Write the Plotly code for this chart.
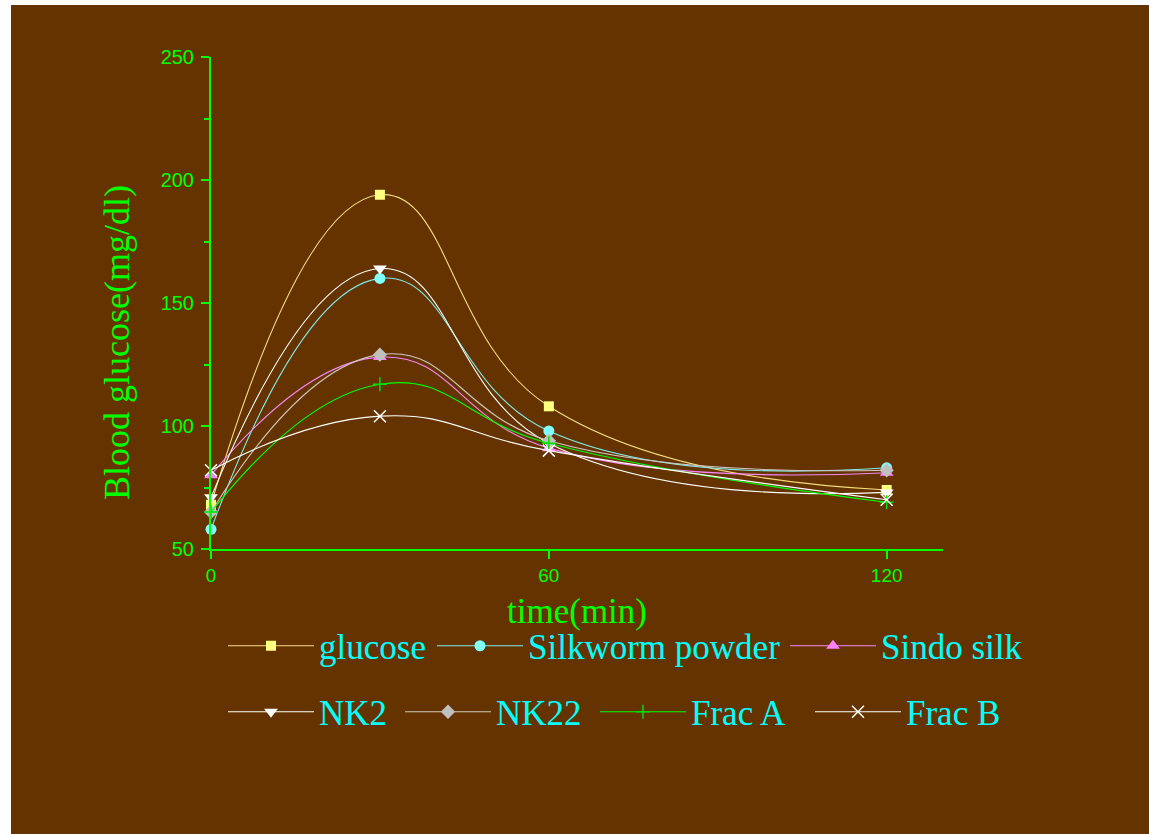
import plotly.graph_objects as go

# Sampling times (min)
time_min = [0, 30, 60, 120]

# Blood glucose (mg/dl) per treatment
glucose = [68, 194, 108, 74]
silkworm_powder = [58, 160, 98, 83]
sindo_silk = [80, 128, 91, 81]
nk2 = [71, 164, 93, 73]
nk22 = [65, 129, 94, 82]
frac_a = [65, 117, 93, 69]
frac_b = [82, 104, 90, 70]

x_ticks = [0, 60, 120]
y_ticks = [50, 100, 150, 200, 250]

BROWN = "#643300"
GREEN = "#00ff00"
CYAN = "#00ffff"

# plot area in pixels (used to place legends/titles in paper units)
L, R, T, B = 211, 943, 57, 549
PW, PH = R - L, B - T


def px_x(px):
    return (px - L) / PW


def px_y(py):
    return (B - py) / PH


series = [
    # name, values, line colour, symbol, marker colour, size, legend line start (px), row centre (px)
    ("glucose", glucose, "#f8dc80", "square", "#ffff80", 10, 228, 646),
    ("Silkworm powder", silkworm_powder, "#80ecec", "circle", "#80ffff", 11, 437, 646),
    ("Sindo silk", sindo_silk, "#f488f4", "triangle-up", "#ff80ff", 12, 790, 646),
    ("NK2", nk2, "#ffffff", "triangle-down", "#ffffff", 12, 228, 712),
    ("NK22", nk22, "#d0c8c0", "diamond", "#c0c0c0", 11, 405, 712),
    ("Frac A", frac_a, "#00ff00", "cross-thin", "#00e000", 10, 600, 712),
    ("Frac B", frac_b, "#ffffff", "x-thin", "#ffffff", 12, 815, 712),
]

fig = go.Figure()
legends = {}
for i, (name, vals, lcol, sym, mcol, size, lx, ly) in enumerate(series):
    thin = sym.endswith("-thin")
    leg_id = "legend" if i == 0 else f"legend{i + 1}"
    fig.add_trace(go.Scatter(
        x=time_min, y=vals, name=name, mode="lines+markers",
        line=dict(color=lcol, width=1.1, shape="spline", smoothing=1.3),
        marker=dict(symbol=sym, size=size, color=mcol,
                    line=dict(color=mcol, width=1.5 if thin else 0)),
        cliponaxis=False,
        legend=leg_id,
    ))
    legends[leg_id] = dict(
        x=px_x(lx - 5), y=px_y(ly), xanchor="left", yanchor="middle",
        orientation="h", bgcolor="rgba(0,0,0,0)", borderwidth=0, itemwidth=86,
        font=dict(family="Liberation Serif", size=35, color=CYAN),
    )

# white edge on the left and top, brown everywhere else
fig.add_shape(type="rect", xref="paper", yref="paper",
              x0=px_x(11), x1=1.4, y0=-0.7, y1=px_y(5),
              fillcolor=BROWN, line=dict(width=0), layer="below")

# y-axis title
fig.add_annotation(
    text="Blood glucose(mg/dl)", textangle=-90, showarrow=False,
    xref="paper", yref="paper", x=px_x(117), y=px_y(343),
    xanchor="center", yanchor="middle",
    font=dict(family="Liberation Serif", size=36, color=GREEN),
)

fig.update_layout(
    width=1149, height=834,
    margin=dict(l=L, r=1149 - R, t=T, b=834 - B),
    paper_bgcolor="#ffffff", plot_bgcolor=BROWN,
    showlegend=True,
    **legends,
    xaxis=dict(
        range=[0, 130], tickvals=x_ticks, showgrid=False, zeroline=False,
        showline=True, linecolor=GREEN, linewidth=2,
        ticks="outside", ticklen=8, tickwidth=2, tickcolor=GREEN,
        tickfont=dict(family="Liberation Sans", size=19, color=GREEN),
        title=dict(text="time(min)", standoff=14,
                   font=dict(family="Liberation Serif", size=35, color=GREEN)),
    ),
    yaxis=dict(
        range=[50, 250], tickvals=y_ticks, showgrid=False, zeroline=False,
        showline=True, linecolor=GREEN, linewidth=2,
        ticks="outside", ticklen=8, tickwidth=2, tickcolor=GREEN,
        ticklabelstandoff=3,
        minor=dict(dtick=25, tick0=0, ticks="outside", ticklen=5,
                   tickwidth=2, tickcolor=GREEN, showgrid=False),
        tickfont=dict(family="Liberation Sans", size=20, color=GREEN),
    ),
)

fig.write_html("out.html")
